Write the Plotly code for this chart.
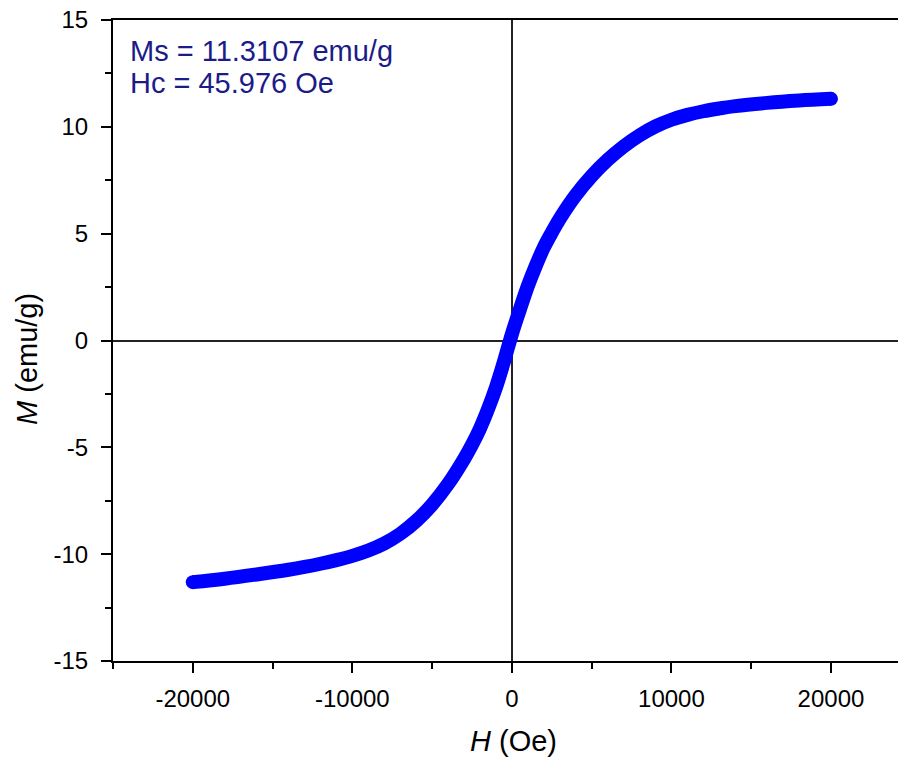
import plotly.graph_objects as go

# Magnetization loop of the sample: applied field H (Oe) vs magnetization M (emu/g)
H_oe = [-20000, -18000, -16000, -14000, -13000, -12000, -11000, -10000, -9000,
        -8000, -7000, -6000, -5000, -4000, -3000, -2500, -2000, -1500, -1000,
        -500, 0, 500, 1000, 1500, 2000, 2500, 3000, 4000, 5000, 6000, 7000,
        8000, 9000, 10000, 11000, 12000, 13000, 14000, 16000, 18000, 20000]
M_emu = [-11.31, -11.15, -10.95, -10.73, -10.60, -10.45, -10.28, -10.08, -9.83,
         -9.50, -9.05, -8.45, -7.68, -6.72, -5.55, -4.88, -4.12, -3.22, -2.20,
         -1.00, 0.30, 1.45, 2.55, 3.50, 4.35, 5.05, 5.70, 6.80, 7.70, 8.45, 9.08,
         9.60, 10.02, 10.33, 10.56, 10.73, 10.86, 10.97, 11.12, 11.23, 11.31]

x_ticks = [-20000, -10000, 0, 10000, 20000]
y_ticks = [-15, -10, -5, 0, 5, 10, 15]

info_lines = ["Ms = 11.3107 emu/g", "Hc = 45.976 Oe"]

FONT = "Liberation Sans, Arial, sans-serif"
W, H = 898, 757
L, R, T, B = 113, 0, 20, 96
plot_w = W - L - R
plot_h = H - T - B


def px_x(px):
    return (px - L) / plot_w


def px_y(py):
    return (H - B - py) / plot_h


fig = go.Figure()
fig.add_trace(go.Scatter(
    x=H_oe, y=M_emu, mode="lines",
    line=dict(color="#0000ff", width=14, shape="spline", smoothing=1.0),
    showlegend=False, hoverinfo="skip",
))
# round the two ends of the thick stroke
fig.add_trace(go.Scatter(
    x=[H_oe[0], H_oe[-1]], y=[M_emu[0], M_emu[-1]], mode="markers",
    marker=dict(color="#0000ff", size=14), showlegend=False, hoverinfo="skip",
))

axis_common = dict(
    showgrid=False, showline=True, linecolor="black", linewidth=2,
    ticks="outside", ticklen=10, tickwidth=2, tickcolor="black",
    zeroline=True, zerolinecolor="#222222", zerolinewidth=1.5,
    tickfont=dict(family=FONT, size=24, color="black"),
)

fig.update_xaxes(
    **axis_common, range=[-25000, 24200], tickvals=x_ticks,
    ticktext=[str(v) for v in x_ticks], mirror=True, ticklabelstandoff=5,
    minor=dict(ticks="outside", ticklen=6, tickwidth=2, tickcolor="black",
               tick0=-25000, dtick=5000),
)
fig.update_yaxes(
    **axis_common, range=[-15, 15], tickvals=y_ticks,
    ticktext=[str(v) for v in y_ticks], ticklabelstandoff=8,
    minor=dict(ticks="outside", ticklen=6, tickwidth=2, tickcolor="black",
               tick0=-15, dtick=2.5),
)

annotations = [
    dict(text="<i>H</i> (Oe)", x=px_x(513), y=px_y(741), xref="paper", yref="paper",
         xanchor="center", yanchor="middle", showarrow=False,
         font=dict(family=FONT, size=29, color="black")),
    dict(text="<i>M</i> (emu/g)", x=px_x(27), y=px_y(359), xref="paper", yref="paper",
         xanchor="center", yanchor="middle", textangle=-90, showarrow=False,
         font=dict(family=FONT, size=29, color="black")),
]
for i, line in enumerate(info_lines):
    annotations.append(dict(
        text=line, x=px_x(129), y=px_y(50.5 + 32.5 * i), xref="paper", yref="paper",
        xanchor="left", yanchor="middle", showarrow=False, borderpad=0,
        font=dict(family=FONT, size=29, color="#1c1c88"),
    ))

fig.update_layout(
    width=W, height=H, margin=dict(l=L, r=R, t=T, b=B),
    paper_bgcolor="white", plot_bgcolor="white",
    annotations=annotations,
)

fig.write_html("out.html")
